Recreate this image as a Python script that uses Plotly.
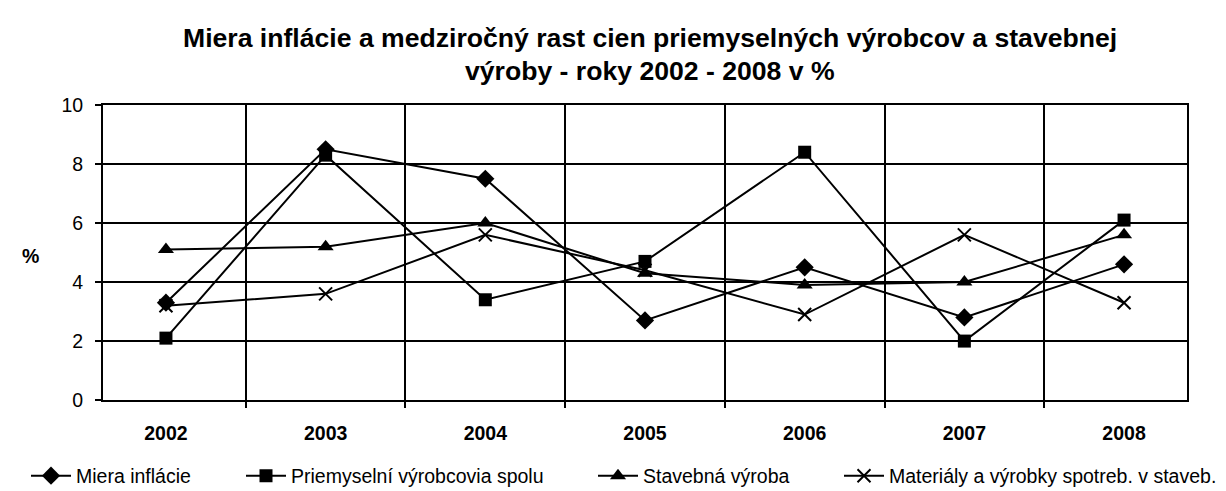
import plotly.graph_objects as go

years = ["2002", "2003", "2004", "2005", "2006", "2007", "2008"]
miera_inflacie = [3.3, 8.5, 7.5, 2.7, 4.5, 2.8, 4.6]
priemyselni = [2.1, 8.3, 3.4, 4.7, 8.4, 2.0, 6.1]
stavebna = [5.1, 5.2, 6.0, 4.3, 3.9, 4.0, 5.6]
materialy = [3.2, 3.6, 5.6, 4.4, 2.9, 5.6, 3.3]

names = ["Miera inflácie", "Priemyselní výrobcovia spolu", "Stavebná výroba",
         "Materiály a výrobky spotreb. v staveb."]
title_lines = ["Miera inflácie a medziročný rast cien priemyselných výrobcov a stavebnej",
               "výroby - roky 2002 - 2008 v %"]
y_axis_label = "%"

series = [miera_inflacie, priemyselni, stavebna, materialy]
symbols = ["diamond", "square", "triangle-up", "x-thin"]
sizes = [14, 13, 14, 13]
legend_text_start = [75, 290, 642, 888]

FONT = "Liberation Sans, Arial, sans-serif"
W, H = 1226, 491
L, R, T, B = 95, 47, 97, 72
PW, PH = W - L - R, H - T - B


def px_to_paper(xp, yp):
    return (xp - L) / PW, (H - B - yp) / PH


fig = go.Figure()
for i, (nm, vals, sym, sz) in enumerate(zip(names, series, symbols, sizes)):
    marker = dict(symbol=sym, size=sz, color="black")
    if sym == "x-thin":
        marker["line"] = dict(color="black", width=2)
    fig.add_trace(go.Scatter(
        x=years, y=vals, name=nm, mode="lines+markers",
        line=dict(color="black", width=2), marker=marker,
        legend="legend" if i == 0 else f"legend{i+1}",
    ))

legends = {}
for i, ts in enumerate(legend_text_start):
    key = "legend" if i == 0 else f"legend{i+1}"
    legends[key] = dict(
        x=(ts - 57) / W, xref="container", xanchor="left",
        y=1 - 468 / H, yref="container", yanchor="middle",
        orientation="h", font=dict(family=FONT, size=19.5, color="black"),
        bgcolor="rgba(0,0,0,0)", borderwidth=0, itemwidth=40,
    )

fig.update_layout(
    width=W, height=H,
    paper_bgcolor="white", plot_bgcolor="white",
    margin=dict(l=L, r=R, t=T, b=B),
    showlegend=True,
    **legends,
)

fig.update_xaxes(
    type="category", tickson="boundaries",
    showgrid=True, gridcolor="black", gridwidth=2,
    showline=True, linecolor="black", linewidth=2, mirror=True,
    ticks="outside", ticklen=6, tickwidth=2, tickcolor="black",
    tickfont=dict(family=FONT, size=19.5, color="black", weight="bold"),
    ticklabelstandoff=15,
)
fig.update_yaxes(
    range=[0, 10], dtick=2, tick0=0,
    showgrid=True, gridcolor="black", gridwidth=2,
    showline=True, linecolor="black", linewidth=2, mirror=True,
    ticks="outside", ticklen=6, tickwidth=2, tickcolor="black",
    tickfont=dict(family=FONT, size=19.5, color="black"),
    ticklabelstandoff=8,
    zeroline=False,
)

# title (two lines, placed individually)
for txt, yc in zip(title_lines, [24, 60]):
    ax_, ay_ = px_to_paper(641.5, yc)
    fig.add_annotation(
        text=f"<b>{txt}</b>", x=ax_, y=ay_, xref="paper", yref="paper",
        xanchor="center", yanchor="middle", showarrow=False,
        font=dict(family=FONT, size=26.6, color="black"),
    )

ax_, ay_ = px_to_paper(22.5, 262)
fig.add_annotation(
    text=f"<b>{y_axis_label}</b>", x=ax_, y=ay_, xref="paper", yref="paper",
    xanchor="center", yanchor="middle", showarrow=False,
    font=dict(family=FONT, size=19.5, color="black"),
)

fig.write_html("out.html")
